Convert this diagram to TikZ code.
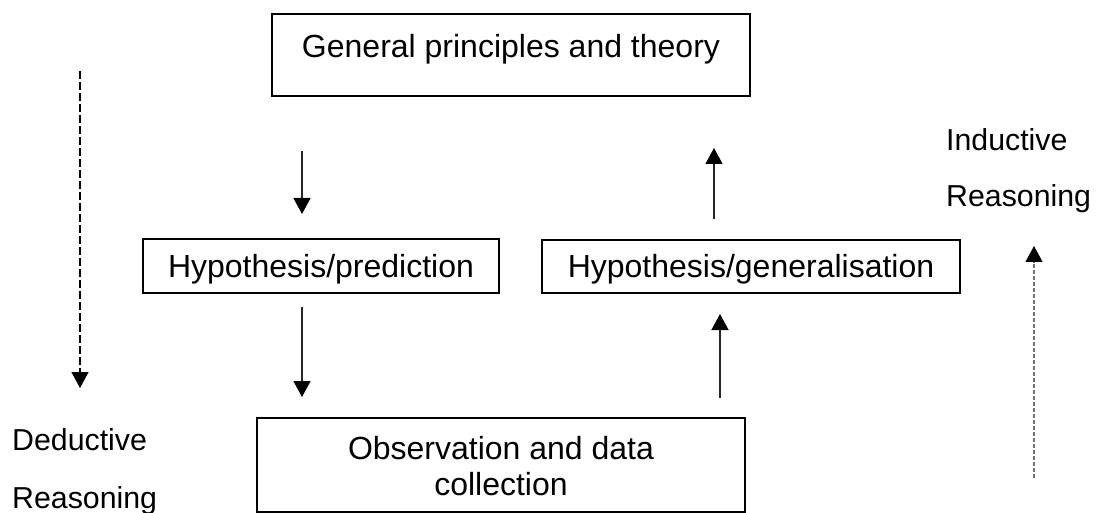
\documentclass[tikz,border=0pt]{standalone}
\usepackage{fontspec}
\setmainfont{Liberation Sans}
\usetikzlibrary{arrows.meta}
\begin{document}
\begin{tikzpicture}[x=1pt,y=-1pt,
  every node/.style={inner sep=0pt},
  box/.style={draw, line width=2.6pt, align=center, font=\fontsize{32}{36}\selectfont},
  tip/.style={-{Triangle[width=17pt,length=16pt,color=black]}},
  flow/.style={tip, line width=1.3pt, draw=black!85},
  deduce/.style={tip, line width=1.2pt, dash pattern=on 8pt off 3pt},
  induce/.style={tip, line width=1.2pt, draw=black!55, dash pattern=on 4pt off 2pt},
  caption/.style={anchor=base west, font=\fontsize{30.3}{36}\selectfont}
]
\useasboundingbox (0,0) rectangle (1101,513);

% boxes
\node[box, minimum width=478pt, minimum height=82pt, text height=24pt, text depth=18pt]
  (theory) at (511,55) {General principles and theory};
\node[box, minimum width=356pt, minimum height=54pt, text height=23pt, text depth=1pt]
  (predict) at (321,266) {Hypothesis/prediction};
\node[box, minimum width=418pt, minimum height=53pt, text height=23pt, text depth=2pt]
  (general) at (751,266.5) {Hypothesis/generalisation};
\node[box, minimum width=488pt, minimum height=94pt, text height=60pt, text depth=0pt]
  (observe) at (501,465) {Observation and data\\collection};

% short arrows between the stages
\coordinate (d1s) at (302,151); \coordinate (d1e) at (302,214);
\coordinate (d2s) at (302,307); \coordinate (d2e) at (302,397);
\coordinate (u1s) at (714,219); \coordinate (u1e) at (714,148);
\coordinate (u2s) at (720,398); \coordinate (u2e) at (720,314);
\draw[flow] (d1s) -- (d1e);
\draw[flow] (d2s) -- (d2e);
\draw[flow] (u1s) -- (u1e);
\draw[flow] (u2s) -- (u2e);

% long dashed reasoning arrows
\coordinate (dds) at (80,71);    \coordinate (dde) at (80,388);
\coordinate (ius) at (1034,478); \coordinate (iue) at (1034,246);
\draw[deduce] (dds) -- (dde);
\draw[induce] (ius) -- (iue);

% side captions
\node[caption] (ind1) at (946,151) {Inductive};
\node[caption] (ind2) at (946,207) {Reasoning};
\node[caption] (ded1) at (12,450) {Deductive};
\node[caption] (ded2) at (12,508) {Reasoning};
\end{tikzpicture}
\end{document}
